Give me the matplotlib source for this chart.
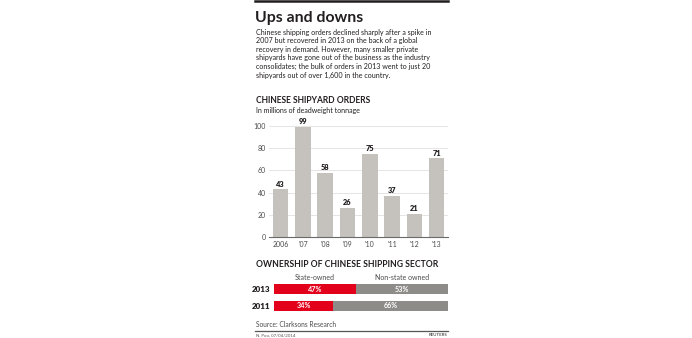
import matplotlib.pyplot as plt
from matplotlib.lines import Line2D

# --- data ---
years = ['2006', "'07", "'08", "'09", "'10", "'11", "'12", "'13"]
orders = [43, 99, 58, 26, 75, 37, 21, 71]
yticks = [0, 20, 40, 60, 80, 100]

own_years = ['2011', '2013']
state_owned = [34, 47]
non_state = [66, 53]

W, H = 692, 338
BAR_GREY = '#c5c1bc'
RED = '#e2001a'
DARK_GREY = '#8e8c89'
INK = '#231f20'

plt.rcParams['font.family'] = ['Lato', 'DejaVu Sans']


def fx(x):
    return x / W


def fy(y):
    return 1 - y / H


fig = plt.figure(figsize=(W / 100, H / 100), dpi=100)
fig.patch.set_facecolor('white')

# top rule
fig.add_artist(Line2D([fx(255), fx(448)], [fy(1), fy(1)], color=INK, lw=1.8))

fig.text(fx(255), fy(22), 'Ups and downs', fontsize=11.4, fontweight='bold', color=INK)
body = ("Chinese shipping orders declined sharply after a spike in\n"
        "2007 but recovered in 2013 on the back of a global\n"
        "recovery in demand. However, many smaller private\n"
        "shipyards have gone out of the business as the industry\n"
        "consolidates; the bulk of orders in 2013 went to just 20\n"
        "shipyards out of over 1,600 in the country.")
fig.text(fx(255.5), fy(28.5), body, fontsize=5.15, color=INK, va='top', linespacing=1.27)

fig.text(fx(255.5), fy(103), 'CHINESE SHIPYARD ORDERS', fontsize=6.15, fontweight='bold', color=INK)
fig.text(fx(255.5), fy(112.5), 'In millions of deadweight tonnage', fontsize=5.0, color=INK)

# --- bar chart ---
ax = fig.add_axes([fx(269), fy(237), (448 - 269) / W, (237 - 126) / H])
x = range(len(years))
ax.bar(x, orders, width=0.7, color=BAR_GREY, zorder=2)
for xi, v in zip(x, orders):
    ax.text(xi, v + 1.5, str(v), ha='center', va='bottom', fontsize=5.3,
            fontweight='heavy', color=INK, clip_on=False)
ax.set_xlim(-0.52, 7.51)
ax.set_ylim(0, 100)
ax.set_yticks(yticks)
ax.set_xticks(list(x))
ax.set_xticklabels(years)
ax.tick_params(axis='both', length=0, labelsize=5.0, labelcolor='#4a4a4a')
ax.tick_params(axis='y', pad=2)
ax.tick_params(axis='x', pad=3)
ax.grid(axis='y', color='#e3e1df', lw=0.6, zorder=0)
for s in ['top', 'right', 'left']:
    ax.spines[s].set_visible(False)
ax.spines['bottom'].set_color('#6d6b69')
ax.spines['bottom'].set_linewidth(0.8)
ax.set_facecolor('white')

# --- ownership split ---
fig.text(fx(255.5), fy(267), 'OWNERSHIP OF CHINESE SHIPPING SECTOR', fontsize=6.2,
         fontweight='bold', color=INK)
fig.text(fx(315), fy(280.5), 'State-owned', fontsize=5.0, color='#4a4a4a', ha='center')
fig.text(fx(402), fy(280.5), 'Non-state owned', fontsize=5.0, color='#4a4a4a', ha='center')

ax2 = fig.add_axes([fx(274.3), fy(310.7), (447.7 - 274.3) / W, (310.7 - 284.3) / H])
pos = [0, 1]
ax2.barh(pos, state_owned, height=0.61, color=RED)
ax2.barh(pos, non_state, left=state_owned, height=0.61, color=DARK_GREY)
for p, s, n in zip(pos, state_owned, non_state):
    ax2.text(s / 2, p, f'{s}%', ha='center', va='center', fontsize=5.2,
             fontweight='bold', color='white')
    ax2.text(s + n / 2, p, f'{n}%', ha='center', va='center', fontsize=5.2,
             fontweight='bold', color='white')
ax2.set_xlim(0, 100)
ax2.set_ylim(-0.305, 1.305)
ax2.set_yticks(pos)
ax2.set_yticklabels(own_years, fontweight='heavy', fontsize=5.8, color=INK)
ax2.set_xticks([])
ax2.tick_params(axis='y', length=0, pad=3)
for s in ax2.spines.values():
    s.set_visible(False)

# --- footer ---
fig.text(fx(255.5), fy(327), 'Source: Clarksons Research', fontsize=4.8, color='#4a4a4a')
fig.add_artist(Line2D([fx(255), fx(448)], [fy(330.5), fy(330.5)], color='#555555', lw=0.9))
fig.text(fx(255.5), fy(336.5), 'N. Poo, 07/04/2014', fontsize=3.2, color='#555555')
fig.text(fx(447), fy(336.5), 'REUTERS', fontsize=3.2, fontweight='bold', color='#555555', ha='right')

fig.savefig('out.png', dpi=100, facecolor='white')
